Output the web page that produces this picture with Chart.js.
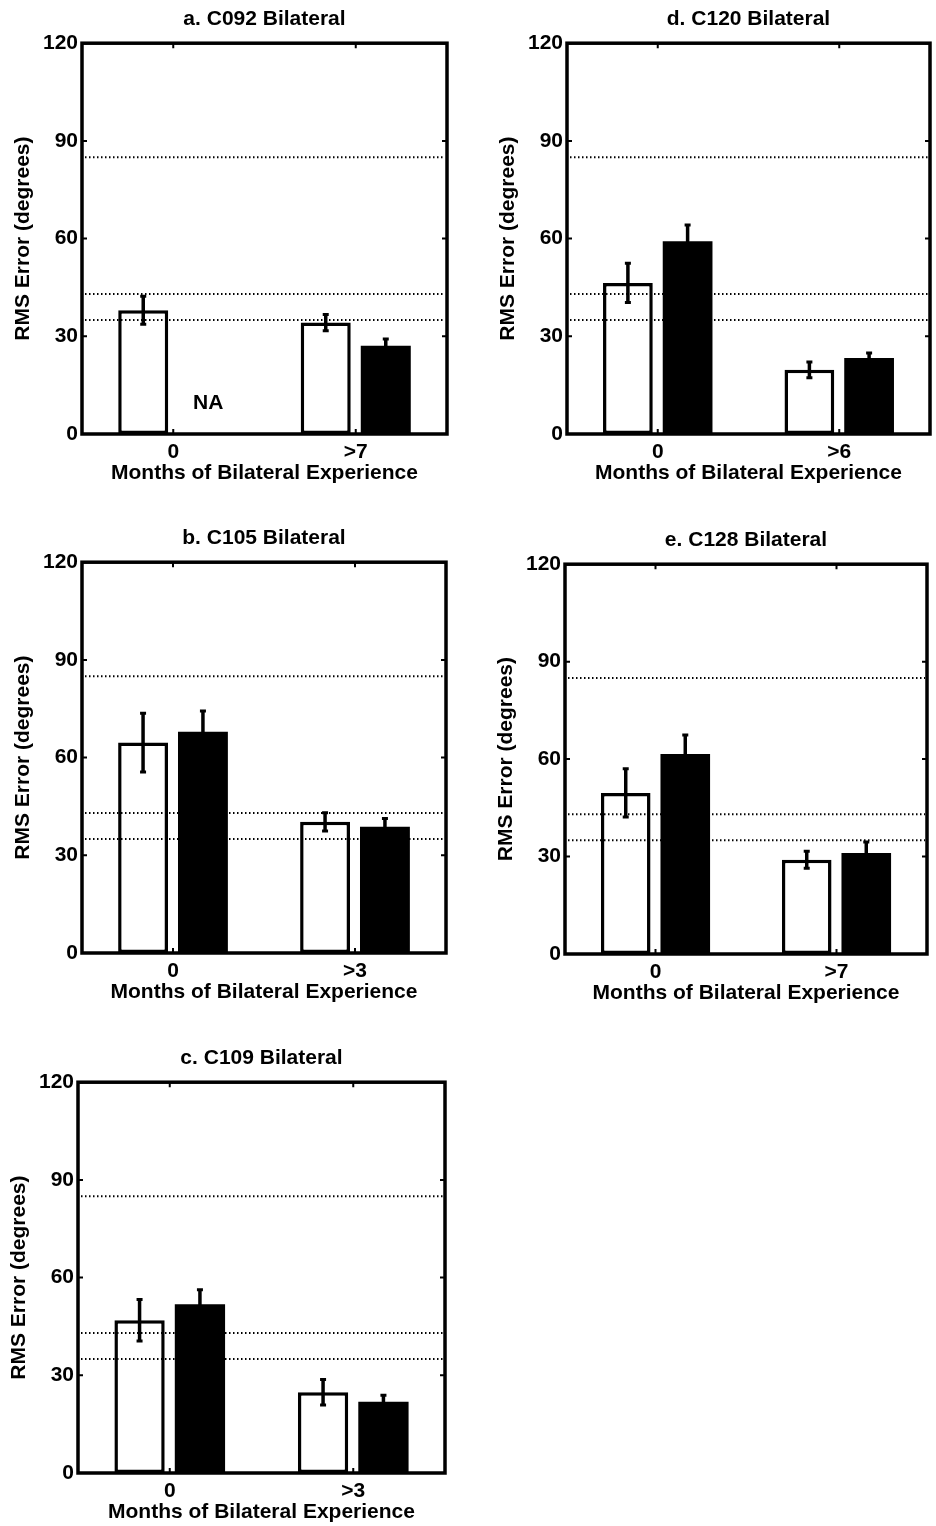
<!DOCTYPE html>
<html>
<head>
<meta charset="utf-8">
<title>RMS Error by Months of Bilateral Experience</title>
<script src="https://cdn.jsdelivr.net/npm/chart.js@4.4.1/dist/chart.umd.min.js"></script>
<style>
  body { margin: 0; background: #fff; }
  #page { position: relative; width: 936px; height: 1526px; background: #fff; }
  #page canvas { position: absolute; }
</style>
</head>
<body>
<div id="page"></div>
<script>
// values (RMS error in degrees)
const panelTitles = ['a. C092 Bilateral', 'b. C105 Bilateral', 'c. C109 Bilateral', 'd. C120 Bilateral', 'e. C128 Bilateral'];
const monthLabels = [['0', '>7'], ['0', '>3'], ['0', '>3'], ['0', '>6'], ['0', '>7']];
const openValues = [[38, 34.2], [64.6, 40.3], [46.9, 24.8], [46.4, 19.7], [49.6, 29]];
const openErrors = [[4.3, 2.5], [9, 2.8], [6.4, 3.9], [6, 2.4], [7.4, 2.6]];
const filledValues = [[null, 27.1], [67.9, 38.8], [51.8, 21.9], [59.2, 23.3], [61.6, 31.1]];
const filledErrors = [[null, 2.1], [6.4, 2.5], [4.5, 2], [5, 1.6], [5.8, 3.4]];
const refLines = [85, 43, 35];
const yTicks = [0, 30, 60, 90, 120];
const naLabel = 'NA';
const naValue = 9.5;

// plot rectangles on the page [left, top, right, bottom]
const plotBoxes = [
  [82, 44, 447, 434],
  [82, 563, 446, 953],
  [78, 1083, 445, 1473],
  [567, 44, 930, 434],
  [565, 565, 927, 954]
];

Chart.defaults.font.family = "'Liberation Sans', Arial, Helvetica, sans-serif";
Chart.defaults.font.size = 21;
Chart.defaults.font.weight = 'bold';
Chart.defaults.color = '#000';

const PAD_L = 11, Y_W = 71, PAD_R = 6, TOP_H = 44, X_H = 52, PAD_B = 10;

const decorPlugin = {
  id: 'decor',
  afterDatasetsDraw(chart, args, opts) {
    const { ctx, chartArea: a, scales: { x, y } } = chart;
    ctx.save();
    ctx.strokeStyle = '#000';

    // dotted reference lines
    ctx.lineWidth = 2;
    ctx.setLineDash([1.5, 2.5]);
    refLines.forEach(v => {
      const py = y.getPixelForValue(v);
      ctx.beginPath();
      ctx.moveTo(a.left + 3, py);
      ctx.lineTo(a.right - 2, py);
      ctx.stroke();
    });
    ctx.setLineDash([]);

    // error bars
    const drawErr = (meta, vals, errs) => {
      meta.data.forEach((bar, i) => {
        if (vals[i] == null || errs[i] == null) return;
        const hi = y.getPixelForValue(vals[i] + errs[i]);
        const lo = y.getPixelForValue(vals[i] - errs[i]);
        ctx.lineWidth = 3.5;
        ctx.beginPath();
        ctx.moveTo(bar.x, hi);
        ctx.lineTo(bar.x, lo);
        ctx.stroke();
        ctx.lineWidth = 3;
        ctx.beginPath();
        ctx.moveTo(bar.x - 3, hi); ctx.lineTo(bar.x + 3, hi);
        ctx.moveTo(bar.x - 3, lo); ctx.lineTo(bar.x + 3, lo);
        ctx.stroke();
      });
    };
    drawErr(chart.getDatasetMeta(0), opts.openVals, opts.openErrs);
    drawErr(chart.getDatasetMeta(1), opts.filledVals, opts.filledErrs);

    // NA label where the filled bar is missing
    opts.filledVals.forEach((v, i) => {
      if (v != null) return;
      const cx = x.getPixelForValue(i);
      const openX = chart.getDatasetMeta(0).data[i].x;
      ctx.fillStyle = '#000';
      ctx.textAlign = 'center';
      ctx.textBaseline = 'middle';
      ctx.font = "bold 21px 'Liberation Sans', Arial, sans-serif";
      ctx.fillText(naLabel, 2 * cx - openX + 5, y.getPixelForValue(naValue));
    });

    // axes frame
    ctx.lineWidth = 3.5;
    ctx.strokeRect(a.left, a.top, a.right - a.left, a.bottom - a.top);

    // inward tick marks
    ctx.lineWidth = 2;
    ctx.beginPath();
    yTicks.forEach(v => {
      const py = y.getPixelForValue(v);
      ctx.moveTo(a.left, py); ctx.lineTo(a.left + 5, py);
      ctx.moveTo(a.right, py); ctx.lineTo(a.right - 5, py);
    });
    x.getLabels().forEach((l, i) => {
      const px = x.getPixelForValue(i);
      ctx.moveTo(px, a.top); ctx.lineTo(px, a.top + 5);
      ctx.moveTo(px, a.bottom); ctx.lineTo(px, a.bottom - 5);
    });
    ctx.stroke();
    ctx.restore();
  }
};

const page = document.getElementById('page');

plotBoxes.forEach((box, p) => {
  const [L, T, R, B] = box;
  const canvas = document.createElement('canvas');
  const w = (R - L) + PAD_L + Y_W + PAD_R;
  const h = (B - T) + TOP_H + X_H + PAD_B;
  canvas.width = w;
  canvas.height = h;
  canvas.style.left = (L - PAD_L - Y_W) + 'px';
  canvas.style.top = (T - TOP_H) + 'px';
  canvas.style.width = w + 'px';
  canvas.style.height = h + 'px';
  page.appendChild(canvas);

  new Chart(canvas.getContext('2d'), {
    type: 'bar',
    data: {
      labels: monthLabels[p],
      datasets: [
        {
          label: 'open',
          data: openValues[p],
          backgroundColor: '#fff',
          borderColor: '#000',
          borderWidth: 3.5,
          borderSkipped: false
        },
        {
          label: 'filled',
          data: filledValues[p],
          backgroundColor: '#000',
          borderWidth: 0
        }
      ]
    },
    options: {
      responsive: false,
      animation: false,
      devicePixelRatio: 1,
      categoryPercentage: 0.658,
      barPercentage: 0.833,
      layout: { padding: { left: PAD_L, right: PAD_R, top: 0, bottom: PAD_B } },
      scales: {
        x: {
          type: 'category',
          offset: true,
          grid: { display: false, drawTicks: false },
          border: { display: false },
          ticks: { padding: 6, color: '#000', maxRotation: 0 },
          title: { display: true, text: 'Months of Bilateral Experience', color: '#000', padding: 0 },
          afterFit: scale => { scale.height = X_H; }
        },
        y: {
          min: 0,
          max: 120,
          grid: { display: false, drawTicks: false },
          border: { display: false },
          ticks: { stepSize: 30, padding: 4, color: '#000' },
          title: { display: true, text: 'RMS Error (degrees)', color: '#000', padding: 0 },
          afterFit: scale => { scale.width = Y_W; }
        }
      },
      plugins: {
        legend: { display: false },
        tooltip: { enabled: false },
        title: {
          display: true,
          text: panelTitles[p],
          color: '#000',
          fullSize: false,
          font: { size: 21, weight: 'bold' },
          padding: { top: 7, bottom: 11 }
        },
        decor: {
          openVals: openValues[p],
          openErrs: openErrors[p],
          filledVals: filledValues[p],
          filledErrs: filledErrors[p]
        }
      }
    },
    plugins: [decorPlugin]
  });
});
</script>
</body>
</html>
